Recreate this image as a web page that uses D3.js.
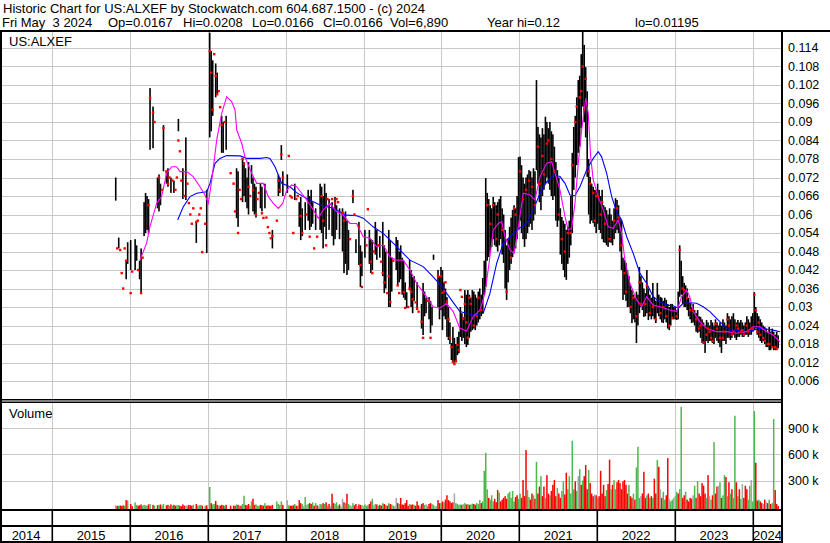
<!DOCTYPE html>
<html><head><meta charset="utf-8">
<script src="https://cdn.jsdelivr.net/npm/d3@7"></script>
<style>
body{margin:0;background:#fff}
svg{display:block}
text{font-family:"Liberation Sans",Arial,sans-serif;fill:#000}
</style>
</head><body>
<svg id="c" width="830" height="543"></svg>
<script>
// ---------- DATA ----------
// Weekly bars starting Monday 2015-10-26. Tuple: [high, low, close, single-trade dot, volume]
// prices in thousandths of a dollar (mils), volume in thousands of shares. 0 = none.
const w2015 = [[72,64.5,64.5,0,15],[0,0,0,49,8],[52.5,49,50,0,10],[0,0,0,48.5,12],[0,0,0,41,8],[0,0,0,36,14],[0,0,0,49,10],[45,39,40,45,75],[51,44,44.5,0,70],[0,0,0,0,0]];
const w2016 = [[51.7,42,43,34.5,30],[0,0,0,41.5,5],[0,0,0,0,0],[52,42,45,0,48],[50,45,46,0,20],[0,0,0,42,10],[45,39,40,0,15],[49,34.5,37,34.5,25],[0,0,0,46,10],[64,53,57,0,20],
[67,54,60,0,15],[66,55,62,0,10],[65,54,58,63,25],[101,81,88,97.8,30],[0,0,0,0,0],[95,81.5,85,93,20],[0,0,0,90,10],[0,0,0,0,0],[72,62,66,0,15],[73,61,70,72,20],
[70,63,65,0,25],[0,0,0,68,10],[89,74,80,88,30],[0,0,0,0,0],[74,70,72,74,15],[75,69,71,70,20],[0,0,0,72,10],[72,67,68,0,25],[0,0,0,71,10],[71,67,70,0,20],
[0,0,0,68,10],[0,0,0,72,15],[91,87,88,84,20],[0,0,0,80.5,10],[0,0,0,71,5],[75,65,70,0,25],[0,0,0,66,10],[85,64.7,66,73,15],[0,0,0,70,10],[0,0,0,63.7,20],
[0,0,0,60,15],[0,0,0,57,10],[0,0,0,62,20],[0,0,0,0,0],[57.6,50.8,52,57.6,30],[0,0,0,58,10],[0,0,0,60,15],[0,0,0,62,20],[0,0,0,47.8,10],[0,0,0,0,0],
[0,0,0,57,10],[68,47.5,50,0,15]];
const w2017 = [[0,0,0,0,0],[119,85,110,113,225],[113,87,95,106,40],[110,92,100,94,25],[0,0,0,112,30],[109,98,104,105,65],[106,99,100,99,20],[0,0,0,100,15],[0,0,0,94.8,10],[92,80,85,89,20],
[90,80,82,0,15],[0,0,0,90,10],[92,81,84,0,20],[0,0,0,0,0],[0,0,0,0,0],[0,0,0,73.4,10],[0,0,0,0,0],[0,0,0,70,10],[0,0,0,61,10],[75,58.8,62,0,25],
[74,56,60,54,20],[0,0,0,68,10],[0,0,0,65,10],[78,64,70,78,30],[77,66,72,76.5,125],[75,64,67,0,20],[72,62,66,0,15],[77,60,63,69,30],[0,0,0,66,10],[76,70,72,0,60],
[72,61,64,68,90],[70,60,62,0,20],[69,59,64,60,25],[0,0,0,65,10],[0,0,0,67,10],[70,62,65,0,20],[69,61,63,60.4,15],[0,0,0,58.9,10],[70,62,66,0,40],[0,0,0,59,10],
[0,0,0,55.9,15],[0,0,0,54,10],[0,0,0,52.3,10],[55,49,50,53,20],[0,0,0,0,0],[0,0,0,0,0],[0,0,0,58,60],[73,66,69,71,30],[72,67,70,68,20],[82.5,77.7,79,79.5,60],
[74,66,70,72,20],[0,0,0,0,0]];
const w2018 = [[0,0,0,0,0],[73,67,70,0,75],[0,0,0,79,15],[0,0,0,66,10],[0,0,0,65.5,10],[0,0,0,54,15],[70,64.7,66,0,30],[0,0,0,65,10],[0,0,0,66,10],[64,56,58,0,75],
[65.7,51.7,54,59.5,40],[62,53,55,54,30],[0,0,0,0,5],[64,55,60,0,110],[0,0,0,60,20],[68,58,62,0,30],[66,55,60,52.8,40],[68,56,58,0,30],[64,57,60,0,50],[0,0,0,49,10],
[62,55,57,0,40],[0,0,0,52.8,15],[0,0,0,0,5],[70,55,58,0,30],[69,54,62,66,25],[66,49,52,58,40],[70,56,64,0,30],[67,52,60,50,50],[0,0,0,65,10],[65,55,58,0,30],
[0,0,0,0,5],[64,53,56,65,148],[62,50,55,0,40],[65.7,52,58,63.7,30],[63,55,60,65,50],[0,0,0,64,10],[62,52,54,0,25],[0,0,0,0,5],[62,48,54,60.6,90],[60,41,45,58,50],
[61,44,50,0,40],[58,40.4,42,0,148],[55,42,48,0,30],[0,0,0,52,15],[0,0,0,0,5],[68,63.7,65,66,40],[0,0,0,60,15],[52,47.5,49,0,30],[0,0,0,0,5],[57.6,43.6,45,56,25],
[50,36.5,38,43.6,20],[48,40,42,36.5,15]];
const w2019 = [[0,0,0,0,5],[55,46,48,0,25],[0,0,0,50,10],[0,0,0,61.7,15],[55,44,47,0,30],[52,41,44,44.7,60],[51.7,42,48,41,90],[0,0,0,48,15],[57.6,47,52,0,30],[55,45.3,48,0,25],
[0,0,0,50,10],[53,46,48,0,20],[0,0,0,44.7,10],[57.6,40,45,41,40],[50,34.5,38,38,30],[48,36,40,0,20],[0,0,0,34.5,10],[55,30,35,40,40],[51.7,30,33,31.6,30],[46,35,40,0,25],
[0,0,0,45,10],[0,0,0,0,5],[52.7,42,45,0,100],[51.7,37.1,40,37,40],[48,38,42,34.5,30],[50,39,41,0,100],[46,34,38,0,25],[45,33,36,34.8,20],[38,32.3,33,29.7,40],[34.8,29.7,31,0,75],
[0,0,0,30,10],[45.3,35.4,38,36,30],[42,30,34,35,20],[39.7,28,31,32.5,25],[40,32,35,0,20],[0,0,0,31.5,10],[38,29,31,29.5,60],[0,0,0,28.5,15],[0,0,0,0,5],[31,23,25,25.2,30],
[37.8,20.9,24,20,40],[35,27,30,0,20],[33,28,30,0,25],[0,0,0,32,10],[33.2,26,28,0,30],[32,21.6,24,20,40],[30,24,26,0,30],[47,45.3,46,0,20],[0,0,0,0,5],[0,0,0,0,5],
[42,30,33,40,75],[40,26,30,0,40]];
const w2020 = [[43,29,33,40,40],[42,22.5,30,34.6,60],[38,27,31,35,50],[36,26,28,38,80],[33.2,20.3,24,31.8,130],[30,19.3,22,26,75],[25,18,20,20,60],[18.3,12.8,14,17,40],[23.5,11.8,13,12.2,50],[20,12,13,11.5,152],
[18,12,14,12.5,40],[20.3,14.4,16,17.7,30],[22,15,19,16,20],[30,20.3,24,35.5,25],[28,19,22,33.3,20],[26,20,22,26.4,30],[35.5,18,26,31,40],[34,17,25,25,25],[35.5,17.7,28,20,30],[34,20,27,33,20],
[33,22,30,31,25],[35.5,22.5,31,0,35],[35,23,29,24,30],[34,22.5,28,0,20],[33,24,30,27,40],[35,25,31,33,30],[36,26,32,0,75],[34,27,31,29,40],[39.4,28,34,0,60],[45,34,42,0,411],
[71.8,36.5,55,0,618],[67,45,60,63,198],[65,46.2,55,0,100],[63,48,58,57,80],[62,49.5,59,0,130],[65.7,52,60,63,60],[64,50,58,0,90],[63,49.5,56,52,50],[64,48,55,60,190],[65,50,60,0,160],
[66,52,56,0,60],[62,47,52,55,80],[60,44.3,48,0,100],[55,36,42,0,120],[50,32.3,38,35,90],[52,38,45,0,150],[56,42,50,0,170],[59,44,52,46,100],[61.5,46.2,55,0,180],[63,48,57,62,60],
[62,49,56,60,110],[66,52,54,0,130],[78.6,55,68,0,90]];
const w2021 = [[78.8,58,70,74,150],[76,54,62,0,100],[72,52,60,65,305],[70,49.5,58,0,120],[72,52,56,68,650],[73,54,66,0,190],[74.4,56,68,71,110],[74,57,64,0,80],[72,55,62,69,150],[75,58,70,0,130],
[74,60,68,63,90],[103.6,74.4,80,0,515],[88.4,70,78,82,150],[86,64,74,70,230],[85,61.4,76,0,350],[88,66,72,79,120],[86,68,70,73,230],[91.7,70,80,0,100],[90,72,78,83,362],[88,70,76,84,150],
[90,68,79,0,130],[87,66,76,78,180],[86,64.7,72,0,250],[82,66,70,74,305],[77,58,64,0,120],[74.4,56,66,0,215],[72,58,62,60,150],[62,47,50,0,100],[59.2,44,52,52,180],[58,42,54,0,290],
[57,39.7,45,48,140],[55,38.8,44,0,389],[56,44,50,54,200],[58,46,52,0,350],[66,50,58,54,150],[80,54,72,76,757],[88.4,68,80,0,200],[92,72,78,90,290],[98,76,88,95,180],[103.6,80,88,0,350],
[105,82,96,98,431],[112,88,94,100,250],[120,95,105,108,300],[115,90,98,94,350],[107.8,85,92,104,477],[100,72.2,74,0,200],[78,60,76,74,420],[72.2,57,64,70,270],[70,58,63,0,150],[69,57.2,62,67,120],
[68,56,62,58,140],[68,54,60,66,130]];
const w2022 = [[70,57,62,66,100],[68,55,60,0,120],[66,54,58,60,411],[68,52,57,64,150],[63,51,55,0,250],[62.4,50.8,54,57,120],[61.4,50,55,0,190],[60,49.5,54,0,260],[62,51,53,52,540],[60,50.8,54,0,200],
[58,50,53,0,250],[62,52,56,58,305],[65.3,54,60,0,200],[64.7,55,59,62,280],[63,54,57,59,305],[59,48,52,0,270],[58,42,46,50,200],[46,32.3,38,0,290],[45.2,34,37,41,305],[44.3,32,36,35,250],
[42,30,33,0,150],[40,30,34,0,250],[37,28,31,30,120],[35.5,24.8,28,0,100],[34,26,30,33,150],[33,25,28,0,80],[35,18.3,30,27,450],[34,24,32,0,688],[43,28,34,38,100],[40,30,34,31,120],
[38,29,32,0,150],[36,26.8,31,0,400],[34.5,27,30,31,100],[42,28,32,37,130],[36,25.8,29,0,150],[34,27,30,28,100],[33,26,29,0,120],[37.8,27,31,30,100],[33.3,26,29,0,320],[32,24.8,28,26,150],
[37.8,28,31,0,535],[34,27,30,0,458],[33.3,26,30,28,200],[33,25,28,0,100],[32,24.8,29,30,170],[33,26,30,0,80],[32.3,25,28,27,130],[31,23,26,0,557],[30,22.5,26,24,90],[31,24,27,0,60],
[31,26,28,26.5,80],[30,26,28,0,100]];
const w2023 = [[30,26,28,0,120],[29,25.8,29,27,170],[35,26,27,0,150],[50,33.3,36,48.5,200],[45,34,41,0,1147],[40,31,35,36,100],[37.8,30,34,35.5,130],[37,30,35,0,170],[36,29,31,33,80],[33,27,29,0,60],
[31.3,26,28,29,100],[30,24.8,27,0,90],[31,25,27,29,130],[29,24,28,0,240],[28,22,25,26,100],[29,21.6,26,0,293],[27,22,24,23,150],[26.8,20,22,24,120],[26,18.3,21,0,270],[25,18,20,18.5,240],
[24,15.1,19,0,150],[25.8,19,22,21,100],[25,18.3,21,23,362],[24,19,21,22,120],[25.8,19,22,20,80],[25,18.3,21,19,130],[24,18,23,0,741],[26,20,22,24.5,150],[25,19,21,23,230],[24,18.3,21,0,240],
[25,17,22,20,280],[24,15.1,20,0,100],[26,19,22,20,130],[25,19,23,22,362],[24,18,20,0,340],[28,20,22,26,120],[27,20,21,24,280],[26,19.3,22,0,150],[27,20,21,21,200],[28,21,23,22,100],
[26,20,24,0,1044],[25,19.3,21,24,280],[25.8,20.3,22,23,120],[25,20.3,21,0,200],[25.8,21,23,22,90],[25,20.3,23,22.5,259],[24,20.3,22,21,100],[25,21,21.5,0,240],[27,21,21,24,200],[26,20.3,23,22,80],
[25,21,24,0,240],[27,21,24,23,305]];
const w2024 = [[28,22,25,23,60],[34.8,22.5,27,34,1098],[30,23,26,29,504],[28,21,24,22,70],[27,20,25,25,80],[26,19,22,21,60],[25,18.3,21,0,40],[24,19,21,20,30],[23.5,18,20,19,80],[23,17,20,0,50],
[22,17,19,18,40],[23.5,16,20,18,80],[22,16,18,0,30],[23,17,19,17,40],[22,16,20,0,1006],[21,16,18,17,190],[22,16,17,16.5,30],[20.8,16.6,16.6,0,7]];

// Moving averages: decimal year, value (dollars)
const maFastYears = [2016.127,2016.213,2016.255,2016.341,2016.405,2016.470,2016.534,2016.598,2016.640,2016.726,2016.811,2016.897,2016.961,2017.004,2017.048,2017.112,2017.176,2017.240,2017.304,2017.347,2017.369,2017.433,2017.475,2017.561,2017.626,2017.710,2017.775,2017.839,2017.903,2017.960,2018.011,2018.075,2018.139,2018.204,2018.268,2018.353,2018.417,2018.481,2018.567,2018.653,2018.738,2018.824,2018.910,2018.995,2019.081,2019.167,2019.252,2019.338,2019.424,2019.509,2019.595,2019.681,2019.809,2019.894,2019.980,2020.066,2020.151,2020.237,2020.323,2020.408,2020.494,2020.558,2020.622,2020.665,2020.729,2020.773,2020.815,2020.879,2020.931,2020.986,2021.050,2021.136,2021.200,2021.265,2021.351,2021.415,2021.457,2021.522,2021.586,2021.628,2021.672,2021.714,2021.757,2021.800,2021.852,2021.885,2021.916,2021.949,2022.013,2022.078,2022.142,2022.206,2022.270,2022.314,2022.356,2022.421,2022.507,2022.571,2022.635,2022.720,2022.806,2022.934,2023.021,2023.085,2023.149,2023.191,2023.234,2023.320,2023.406,2023.534,2023.663,2023.791,2023.920,2024.005,2024.091,2024.177,2024.261,2024.348];
const maFastValues = [.0452,.0507,.056,.0636,.0658,.0734,.0755,.0755,.0739,.0739,.0723,.069,.0663,.0636,.0712,.0842,.0928,.0982,.0966,.0939,.0874,.0831,.0787,.0734,.0701,.0701,.0658,.0636,.062,.0636,.0679,.0696,.069,.0669,.0647,.0615,.0588,.0615,.0636,.0609,.0598,.0571,.0571,.0528,.0523,.0496,.0501,.0463,.0452,.0452,.042,.0377,.0333,.0301,.0296,.0312,.0285,.0231,.0222,.0269,.029,.0344,.0463,.055,.0571,.0577,.0528,.0485,.0474,.056,.0669,.0663,.0647,.0723,.0766,.0771,.0734,.0679,.0593,.055,.0555,.0636,.0766,.0874,.0977,.0928,.0787,.0712,.0658,.0615,.056,.0555,.0582,.0539,.0452,.0377,.0323,.0301,.0333,.0306,.0301,.029,.0285,.0333,.0355,.0333,.0285,.0252,.0231,.022,.022,.0215,.022,.0236,.0236,.022,.0209,.0187];
const maSlowYears = [2016.611,2016.683,2016.769,2016.855,2016.983,2017.026,2017.090,2017.154,2017.240,2017.411,2017.497,2017.668,2017.754,2017.796,2017.861,2017.947,2018.053,2018.139,2018.268,2018.439,2018.610,2018.782,2018.910,2018.995,2019.123,2019.252,2019.380,2019.595,2019.766,2019.894,2020.022,2020.066,2020.151,2020.237,2020.323,2020.408,2020.536,2020.622,2020.709,2020.793,2020.879,2020.965,2021.094,2021.179,2021.265,2021.351,2021.436,2021.522,2021.586,2021.650,2021.714,2021.778,2021.864,2021.949,2022.013,2022.057,2022.121,2022.186,2022.250,2022.314,2022.379,2022.463,2022.549,2022.635,2022.720,2022.806,2022.892,2022.977,2023.041,2023.105,2023.191,2023.277,2023.362,2023.448,2023.534,2023.619,2023.705,2023.791,2023.920,2024.005,2024.091,2024.261,2024.348];
const maSlowValues = [.0582,.0625,.0658,.0669,.0674,.0701,.0766,.0782,.0791,.079,.0782,.0782,.0785,.0782,.0755,.0701,.069,.0671,.0652,.0631,.062,.0598,.0596,.0588,.056,.0539,.0507,.0452,.0431,.0398,.0361,.0345,.0315,.0285,.028,.0274,.028,.0344,.0442,.0507,.0528,.055,.0571,.0615,.0669,.0706,.0728,.0723,.0701,.0663,.0661,.069,.0744,.0782,.0804,.0787,.0734,.0658,.0609,.0582,.0528,.0474,.0409,.0377,.0333,.0317,.0306,.0304,.0296,.0312,.0314,.0312,.0301,.0285,.0263,.0242,.0225,.0225,.022,.0225,.0231,.0225,.022];

const priceTicks = [0.006,0.012,0.018,0.024,0.03,0.036,0.042,0.048,0.054,0.06,0.066,0.072,0.078,0.084,0.09,0.096,0.102,0.108,0.114];
const volumeTicks = [300,600,900];
const volumeTickLabels = ["300 k","600 k","900 k"];
const years = [2014,2015,2016,2017,2018,2019,2020,2021,2022,2023,2024];
const title1 = "Historic Chart for US:ALXEF by Stockwatch.com 604.687.1500 - (c) 2024";
const title2Fields = ["Fri May  3 2024","Op=0.0167","Hi=0.0208","Lo=0.0166","Cl=0.0166","Vol=6,890","Year hi=0.12","lo=0.01195"];
const symbol = "US:ALXEF";

// ---------- BUILD ----------
const weeks = [].concat(w2015,w2016,w2017,w2018,w2019,w2020,w2021,w2022,w2023,w2024);
const start = Date.UTC(2015,9,26);
let prevLast = null;
const rows = weeks.map((d,i)=>{
  const r = {date:new Date(start + i*7*864e5), hi:d[0]/1000, lo:d[1]/1000, cl:d[2]/1000, dot:d[3]/1000, vol:d[4]};
  const last = r.hi>0 ? r.cl : (r.dot>0 ? r.dot : prevLast);
  r.dir = (prevLast==null||last==null) ? 0 : Math.sign(Math.round((last-prevLast)*1e5));
  prevLast = last;
  return r;
});
function fromYear(t){const y=Math.floor(t);const a=Date.UTC(y,0,1),b=Date.UTC(y+1,0,1);return new Date(a+(t-y)*(b-a));}
const maFast = maFastYears.map((t,i)=>({date:fromYear(t),v:maFastValues[i]}));
const maSlow = maSlowYears.map((t,i)=>({date:fromYear(t),v:maSlowValues[i]}));

const PR = 782; // right edge of plot
const x = d3.scaleUtc().domain([Date.UTC(2014,4,1), Date.UTC(2024,4,17)]).range([0,PR]);
const y = d3.scaleLinear().domain([0,0.12]).range([399.5,29.5]);
const yv = d3.scaleLinear().domain([0,1200]).range([506.6,402.2]);

const svg = d3.select("#c");
svg.append("rect").attr("width",830).attr("height",543).attr("fill","#fff");
const GRID = "#c8c8c8";

const defs = svg.append("defs");
defs.append("clipPath").attr("id","cp").append("rect").attr("x",2).attr("y",32).attr("width",PR-3).attr("height",368);
defs.append("clipPath").attr("id","cv").append("rect").attr("x",2).attr("y",403).attr("width",PR-3).attr("height",106);

// header
svg.append("text").attr("x",3).attr("y",13).style("font-size","13px").text(title1);
const fieldX = [2,108,183,252,323,390,487,635];
const t2 = svg.append("text").attr("y",27).style("font-size","13px").attr("xml:space","preserve").style("white-space","pre");
title2Fields.forEach((s,i)=>t2.append("tspan").attr("x",fieldX[i]).text(s));

const yearX = years.slice(1).map(yr=>x(new Date(Date.UTC(yr,0,1))));

// grid
const g = svg.append("g");
priceTicks.forEach(v=>{
  g.append("rect").attr("x",2).attr("y",Math.round(y(v))).attr("width",PR-2).attr("height",1).attr("fill",GRID);
});
yearX.forEach(xx=>{
  g.append("rect").attr("x",Math.round(xx)).attr("y",32).attr("width",1).attr("height",368).attr("fill",GRID);
  g.append("rect").attr("x",Math.round(xx)).attr("y",403).attr("width",1).attr("height",106).attr("fill",GRID);
});
volumeTicks.forEach(v=>{
  g.append("rect").attr("x",2).attr("y",Math.round(yv(v))).attr("width",PR-2).attr("height",1).attr("fill",GRID);
});

// price bars
const pb = svg.append("g").attr("clip-path","url(#cp)");
pb.selectAll("rect.bar").data(rows.filter(r=>r.hi>0)).join("rect").attr("class","bar")
  .attr("x",r=>x(r.date)-0.8).attr("width",1.6)
  .attr("y",r=>y(r.hi)).attr("height",r=>Math.max(1.5,y(r.lo)-y(r.hi))).attr("fill","#000");
const line = d3.line().x(d=>x(d.date)).y(d=>y(d.v));
pb.append("path").datum(maSlow).attr("d",line).attr("fill","none").attr("stroke","#0000ff").attr("stroke-width",1.1);
pb.append("path").datum(maFast).attr("d",line).attr("fill","none").attr("stroke","#ff00ff").attr("stroke-width",1.1);
pb.selectAll("rect.dot").data(rows.filter(r=>r.dot>0)).join("rect").attr("class","dot")
  .attr("x",r=>x(r.date)-1.2).attr("width",2.4)
  .attr("y",r=>y(r.dot)-1.2).attr("height",2.4).attr("fill","#ff0000");

// volume bars
const vb = svg.append("g").attr("clip-path","url(#cv)");
const vcol = d=> d.dir>0 ? "#4db84d" : (d.dir<0 ? "#ff0000" : "#a6a6a6");
vb.selectAll("rect").data(rows.filter(r=>r.vol>0)).join("rect")
  .attr("x",r=>x(r.date)-0.75).attr("width",1.5)
  .attr("y",r=>yv(r.vol)).attr("height",r=>509-yv(r.vol)).attr("fill",vcol);

svg.append("text").attr("x",9).attr("y",46).style("font-size","13px").text(symbol);
svg.append("text").attr("x",9).attr("y",418).style("font-size","13px").text("Volume");

// frame
const fr = (X,Y,W,H)=>svg.append("rect").attr("x",X).attr("y",Y).attr("width",W).attr("height",H).attr("fill","#000");
fr(0,30,830,2);
fr(0,30,2,513);
fr(PR-1,30,2,513);
fr(0,399,PR,1.5);
fr(0,401.5,PR,1.5);
fr(0,509,PR,2);
fr(0,525,PR,2);
fr(0,541,PR,2);
yearX.forEach(xx=>{ fr(Math.round(xx)-0.5,510,1.6,32); });

priceTicks.forEach(v=>{
  svg.append("text").attr("x",788).attr("y",y(v)+4.3).style("font-size","12.5px").text(String(+v.toFixed(3)));
});
volumeTicks.forEach((v,i)=>{
  svg.append("text").attr("x",788).attr("y",yv(v)+4.3).style("font-size","12.5px").text(volumeTickLabels[i]);
});

const edges = [0].concat(yearX).concat([PR]);
years.forEach((yr,i)=>{
  svg.append("text").attr("x",(edges[i]+edges[i+1])/2).attr("y",539.5).attr("text-anchor","middle")
    .style("font-size","13px").text(String(yr));
});
</script>
</body></html>
